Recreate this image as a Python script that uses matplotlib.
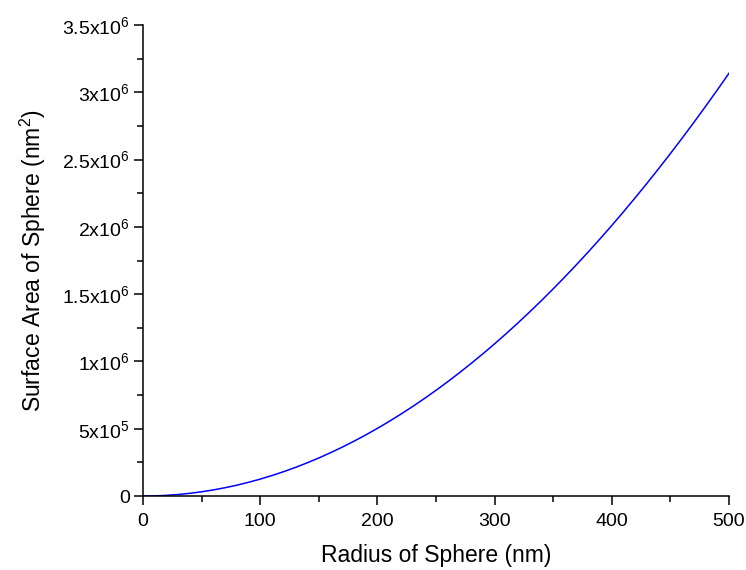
import matplotlib
matplotlib.use("Agg")
import matplotlib.pyplot as plt
from matplotlib.ticker import MultipleLocator, FixedLocator, FixedFormatter

plt.rcParams["font.family"] = ["Liberation Sans", "DejaVu Sans"]
plt.rcParams["mathtext.fontset"] = "custom"
plt.rcParams["mathtext.rm"] = "Liberation Sans"
plt.rcParams["mathtext.it"] = "Liberation Sans:italic"
plt.rcParams["mathtext.bf"] = "Liberation Sans:bold"

# surface area of a sphere (nm^2) sampled along the radius (nm)
radius = [0, 10, 20, 30, 40, 50, 60, 70, 80, 90, 100, 110, 120, 130, 140,
          150, 160, 170, 180, 190, 200, 210, 220, 230, 240, 250, 260, 270,
          280, 290, 300, 310, 320, 330, 340, 350, 360, 370, 380, 390, 400,
          410, 420, 430, 440, 450, 460, 470, 480, 490, 500]
area = [0, 1.26e3, 5.03e3, 1.131e4, 2.011e4, 3.142e4, 4.524e4, 6.158e4,
        8.042e4, 1.0179e5, 1.2566e5, 1.5205e5, 1.8096e5, 2.1237e5, 2.4630e5,
        2.8274e5, 3.2170e5, 3.6317e5, 4.0715e5, 4.5365e5, 5.0266e5, 5.5418e5,
        6.0821e5, 6.6476e5, 7.2382e5, 7.8540e5, 8.4949e5, 9.1609e5, 9.8520e5,
        1.05683e6, 1.13097e6, 1.20763e6, 1.28680e6, 1.36848e6, 1.45267e6,
        1.53938e6, 1.62860e6, 1.72034e6, 1.81458e6, 1.91135e6, 2.01062e6,
        2.11241e6, 2.21671e6, 2.32352e6, 2.43285e6, 2.54469e6, 2.65904e6,
        2.77591e6, 2.89529e6, 3.01719e6, 3.14159e6]

y_ticks = [0, 5e5, 1e6, 1.5e6, 2e6, 2.5e6, 3e6, 3.5e6]
y_tick_labels = ["0", "5x10$^{5}$", "1x10$^{6}$", "1.5x10$^{6}$", "2x10$^{6}$",
                 "2.5x10$^{6}$", "3x10$^{6}$", "3.5x10$^{6}$"]

fig = plt.figure(figsize=(7.46, 5.70), dpi=100)
ax = fig.add_axes([0.1917, 0.1298, 0.7855, 0.8263])

ax.plot(radius, area, color="#0000ff", linewidth=1.1)

ax.set_xlim(0, 500)
ax.set_ylim(0, 3.5e6)
ax.xaxis.set_major_locator(MultipleLocator(100))
ax.xaxis.set_minor_locator(MultipleLocator(50))
ax.yaxis.set_major_locator(FixedLocator(y_ticks))
ax.yaxis.set_major_formatter(FixedFormatter(y_tick_labels))
ax.yaxis.set_minor_locator(MultipleLocator(2.5e5))

for side in ("top", "right"):
    ax.spines[side].set_visible(False)
for side in ("left", "bottom"):
    ax.spines[side].set_linewidth(1.1)

ax.tick_params(which="major", direction="out", length=6.5, width=1.1,
               labelsize=14)
ax.tick_params(axis="x", which="major", pad=6)
ax.tick_params(axis="y", which="major", pad=3)
ax.tick_params(which="minor", direction="out", length=4, width=1.1)

ax.set_xlabel("Radius of Sphere (nm)", fontsize=16.5, labelpad=10)
ax.set_ylabel("Surface Area of Sphere (nm$^{2}$)", fontsize=16.5, labelpad=10)

fig.savefig("out.png", dpi=100)
